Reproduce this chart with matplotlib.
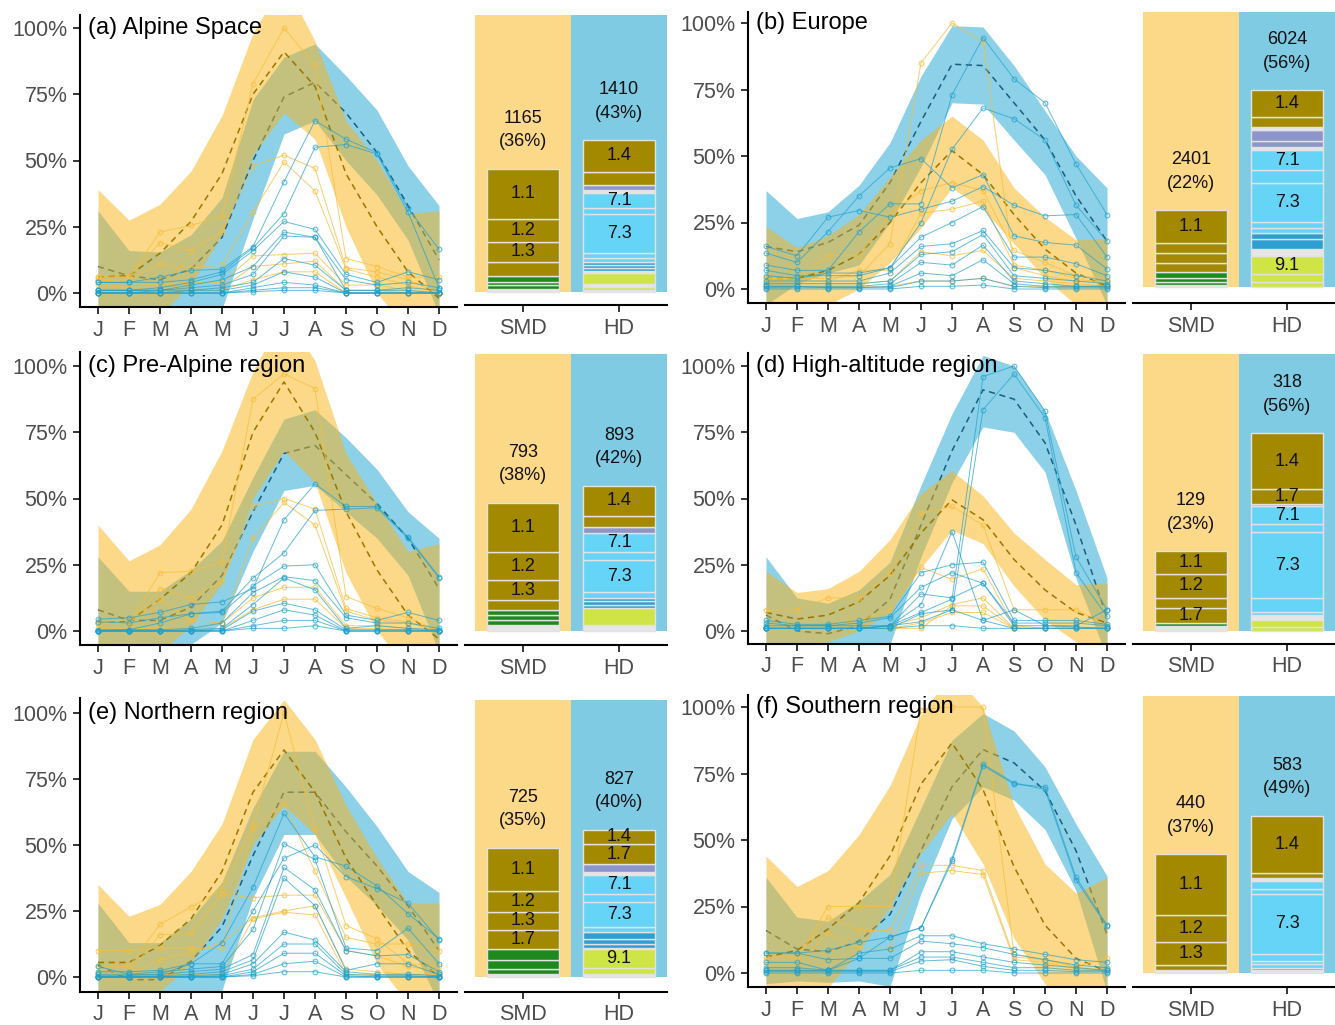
import matplotlib
matplotlib.use('Agg')
import matplotlib.pyplot as plt
import matplotlib.transforms as mtransforms
import numpy as np

plt.rcParams['font.family'] = ['Liberation Sans', 'DejaVu Sans']

# ---------------------------------------------------------------- data
MONTHS = ['J', 'F', 'M', 'A', 'M', 'J', 'J', 'A', 'S', 'O', 'N', 'D']
TITLES = ['(a) Alpine Space', '(b) Europe', '(c) Pre-Alpine region',
          '(d) High-altitude region', '(e) Northern region', '(f) Southern region']

# monthly shares (%) : mean and ribbon edges
A_SMD_MEAN = [6, 6.5, 15, 27, 45, 75, 91, 78, 45, 25, 8, -2]
A_SMD_HI = [39, 27.5, 33.5, 46, 67, 98, 118, 95, 65, 50, 30, 31]
A_SMD_LO = [-27, -14, -8, 3, 22, 52, 68, 58, 25, 0, -14, -35]
A_HD_MEAN = [10, 6.5, 5, 9, 21, 50, 74, 79.5, 68, 53, 33, 12.5]
A_HD_HI = [31, 16, 15.5, 22, 36, 73, 89, 94, 82, 69, 48, 33]
A_HD_LO = [-11, -6, -6, -10, -6, 28, 60, 65, 50, 37, 20, -8]

B_SMD_MEAN = [4, 4, 7, 13, 25, 40, 52, 43, 28, 15, 6, 1]
B_SMD_HI = [23.5, 15.5, 20, 28, 42, 56, 65, 56, 38, 27, 18.5, 19]
B_SMD_LO = [-15, -7, -6, 0, 10, 23, 38, 30, 17, 4, -6, -17]
B_HD_MEAN = [16, 14, 17.5, 24, 40, 63, 84.5, 84, 70, 56, 35, 18]
B_HD_HI = [37, 26.5, 29, 39, 55, 80, 99, 98.5, 84, 67, 50, 38]
B_HD_LO = [-6, 2, 6, 9, 25, 46, 70, 69.5, 56, 43, 19, -6]

C_SMD_MEAN = [3, 3.5, 12, 22, 40, 75, 94, 75, 45, 23, 6, -3]
C_SMD_HI = [40, 26.5, 32.5, 46, 68, 98, 120, 102, 67, 48, 30, 33]
C_SMD_LO = [-35, -20, -8, 2, 18, 50, 68, 56, 22, 0, -14, -35]
C_HD_MEAN = [8, 4, 4, 9, 21, 45, 67, 70, 59, 48, 35, 16]
C_HD_HI = [28, 15, 15, 23, 34, 58, 80, 83.5, 73, 61, 45, 35]
C_HD_LO = [-12, -7, -7, -5, 3, 30, 53, 55, 45, 35, 21, -8]

D_SMD_MEAN = [7, 4.5, 6, 11, 21, 37, 49.5, 42, 27, 15.5, 7, 3]
D_SMD_HI = [22.5, 14.5, 16, 22.5, 34.5, 52, 60.5, 51, 37, 27, 17.5, 18]
D_SMD_LO = [-8, -5.5, -4, 0, 7, 24, 38, 33, 17, 4, -4, -12]
D_HD_MEAN = [6, 0, -1, 2, 12, 40, 68, 91, 87.5, 71, 40, 5]
D_HD_HI = [28, 12.5, 10.5, 15.5, 26, 55, 82, 104, 100, 83, 53, 20]
D_HD_LO = [-20, -12, -12, -10, -5, 28, 56, 77, 75, 60, 20, -10]

E_SMD_MEAN = [5.5, 5.5, 12, 22, 40, 70, 86, 70, 45, 27, 10, 0]
E_SMD_HI = [35, 23, 27.5, 40, 58, 90, 105, 90, 65, 45, 28, 28]
E_SMD_LO = [-25, -13, -5.5, 5, 22, 50, 65, 54, 30, 5, -10, -30]
E_HD_MEAN = [4.5, -1, -1, 6, 19, 46, 70, 70, 55, 42, 27, 10]
E_HD_HI = [28, 13, 13, 22, 36, 64, 85.5, 85.5, 72, 57, 40, 32]
E_HD_LO = [-12, -15, -15, -10, -5, 30, 54, 54, 38, 27, 14, -10]

F_SMD_MEAN = [6, 8.5, 16.5, 26.5, 44, 71, 86.5, 69, 40, 18, 5.5, 0.6]
F_SMD_HI = [44, 32.5, 38.5, 52, 70.5, 97, 113, 100, 63, 41, 30, 36]
F_SMD_LO = [-32, -15.5, -5.5, 8, 25, 45, 60, 41, 13, -4, -19, -35]
F_HD_MEAN = [16, 9, 8, 12, 22, 46, 70, 84, 79, 68.5, 46, 14.5]
F_HD_HI = [36, 21, 19.5, 27, 37, 62, 87.5, 97.6, 91, 77.5, 56, 36.5]
F_HD_LO = [-4, -3, -3.5, -3, -5, 30, 58, 70, 65, 54, 31, -7]

# individual series (%)
A_SMD_LINES = [
    [6, 6, 23, 25.5, 29, 79, 100, 86, 13, 10, 6, 6],
    [6, 6, 19, 16, 23, 48, 52, 47, 9.5, 8, 5, 0],
    [5, 5, 11, 9.5, 10.5, 30.5, 49.5, 38.5, 9, 6, 3, 0],
    [5, 4, 3, 4, 4, 14, 14.5, 15, 3, 3, 1, 0],
    [3, 2, 2, 2, 2, 10, 11, 12, 1, 1, 0, 0],
    [1, 1, 1, 1, 1, 5, 8, 8, 0, 0, 0, 0],
]
A_HD_LINES = [
    [4, 4, 6, 8.5, 9, 17.5, 42, 65, 58, 53, 32, 16.5],
    [4, 4, 4, 5, 8, 17, 30, 55, 56, 52.5, 30.5, 2],
    [1, 1, 2, 4, 7, 16, 27, 24, 7, 4, 8, 5],
    [1, 1, 1, 3, 5, 10, 23, 21, 5, 3, 4, 2],
    [1, 1, 1, 2, 3, 7, 21.5, 21, 1, 1, 2, 1],
    [0, 0, 1, 1, 2, 4, 13, 10.5, 1, 1, 1, 0],
    [0, 0, 0, 1, 1, 3, 8, 6, 0, 0, 0, 0],
    [0, 0, 0, 0, 0, 2, 4, 3, 0, 0, 0, 0],
    [0, 0, 0, 0, 0, 1, 2, 2, 0, 0, 0, 0],
    [0, 0, 0, 0, 0, 0.5, 1, 1, 0, 0, 0, 0],
]
B_SMD_LINES = [
    [4, 4, 4, 5, 17, 85, 100, 93, 8, 5, 3, 3],
    [4, 4, 12.5, 12.5, 28, 37, 40, 37, 14.5, 10, 5, 4],
    [3, 3, 3, 7, 7, 28.5, 30, 33, 9, 7, 4, 2],
    [2, 2, 2, 2, 3, 14, 12.5, 14.5, 4, 3, 2, 1],
    [1, 1, 1, 1, 1, 3, 3, 4, 1, 1, 1, 1],
]
B_HD_LINES = [
    [9, 7, 7, 21.5, 32, 32, 73, 94.5, 79, 70, 47, 28],
    [7, 5, 5, 5, 8, 25, 52.5, 68, 64, 56, 31.5, 18],
    [16, 12.5, 27, 29.5, 27, 30, 33, 38.5, 31.5, 27.5, 28, 12],
    [13.5, 10, 21.5, 35, 45.5, 49, 38, 43, 20, 17.5, 16.5, 7.5],
    [5, 4, 6, 6, 8, 19.5, 25, 31, 12, 12, 9.5, 5],
    [3, 3, 3, 3, 6, 16, 17, 22, 8, 7, 5, 3],
    [2, 2, 2, 2, 3, 13, 14, 20.5, 5, 4, 3, 2],
    [1, 1, 1, 1, 2, 10, 9, 16.5, 3, 2, 1, 1],
    [1, 1, 0.5, 0.5, 1, 6, 5, 11, 2, 1, 1, 1],
    [0.5, 0.5, 0.5, 0.5, 0.5, 3, 3, 4, 1, 0.5, 0.5, 0.5],
    [0, 0, 0, 0, 0, 1, 1, 1.5, 0, 0, 0, 0],
]
C_SMD_LINES = [
    [3, 3, 22, 22.5, 26, 87.5, 97, 91.5, 13, 8.5, 5, 0],
    [3, 3, 16, 12.5, 18.5, 47, 50, 46, 8.5, 5, 3.5, 0],
    [3, 3, 12, 4, 3, 35, 48.5, 40, 7.5, 4, 3, 0],
    [1, 1, 1, 1, 3, 12.5, 16.5, 16.5, 2, 2, 1, 0],
    [0, 0, 0, 0, 1, 8, 12, 12, 1, 1, 0, 0],
]
C_HD_LINES = [
    [4.5, 5, 7, 10, 11, 16, 42, 55.5, 47, 47, 35.5, 20.5],
    [3.5, 3, 5, 6.5, 7.5, 20, 29.5, 45.5, 46, 46.5, 35, 20],
    [0.5, 0.5, 3, 6.5, 7, 17, 24.5, 25, 6, 4, 7, 4],
    [0, 0.5, 0.5, 1, 3, 14.5, 20.5, 19, 5, 3, 3, 1],
    [0, 0, 0, 0.5, 1, 10, 20, 15.5, 1, 2, 1, 0.5],
    [0, 0, 0, 0, 0.5, 7.5, 10.5, 8, 0.5, 0.5, 0.5, 0],
    [0, 0, 0, 0, 0, 4, 8, 6, 0, 0, 0, 0],
    [0, 0, 0, 0, 0, 2, 4, 4, 0, 0, 0, 0],
    [0, 0, 0, 0, 0, 1, 1, 2, 0, 0, 0, 0],
]
D_SMD_LINES = [
    [8, 8, 12.5, 12.5, 22, 44.5, 47, 40, 8, 8, 8, 2],
    [2, 2, 2, 4, 8, 24, 19.5, 23.5, 2, 1, 1, 1],
    [1, 1, 1, 1, 2, 5, 10, 12.5, 1, 1, 1, 1],
    [1, 1, 1, 1, 1, 3, 7, 7, 1, 1, 1, 1],
    [1, 1, 1, 1, 1, 1, 9.5, 9.5, 1, 1, 1, 1],
]
D_HD_LINES = [
    [1, 1, 1, 1, 2, 7, 12, 96, 100, 83, 28, 8],
    [1, 1, 1, 1, 2, 3.5, 8, 83.5, 97, 80.5, 22, 5.5],
    [4, 2.5, 2.5, 4, 5.5, 22, 25, 26, 4, 4, 4, 2.5],
    [3, 2, 2, 3, 5, 16.5, 22, 18, 3, 3, 3, 2],
    [1, 1, 1, 1, 2, 14, 12.5, 18, 2, 2, 1.5, 1],
    [1, 1, 1, 1, 1, 6.5, 8, 4, 1, 1, 1, 1],
    [2, 2, 2, 2, 2, 10, 37.5, 4, 8, 2, 2, 8],
    [1, 1, 1, 1, 1, 2, 2, 1, 1, 1, 1, 1],
]
E_SMD_LINES = [
    [10, 10, 11, 11, 11, 56, 65.5, 40, 15, 12.5, 12.5, 10],
    [4, 4, 20, 26.5, 33, 57.5, 100, 56, 19.5, 14.5, 5, 4],
    [2, 2, 16, 16.5, 31.5, 30, 31, 31, 10, 8, 4, 2],
    [1, 1, 6.5, 9.5, 13, 22.5, 25, 27, 3, 2, 1, 1],
    [1, 1, 1, 1, 1, 22, 24.5, 23.5, 1, 1, 1, 1],
]
E_HD_LINES = [
    [4, 1, 1, 5, 13, 34, 62, 45.5, 42, 34.5, 24, 14.5],
    [2, 2, 2.5, 5, 5, 25, 45, 50, 38, 33.5, 28, 14],
    [1, 1, 2, 3, 4, 18, 50.5, 44.5, 11, 10, 18.5, 5],
    [0.5, 0.5, 1, 2, 3, 8.5, 41.5, 33, 10, 8, 8.5, 2],
    [0, 0, 0.5, 1, 2, 6.5, 37.5, 27, 2.5, 5, 5, 1],
    [0, 0, 0, 0.5, 1, 5, 17, 14, 2, 1, 1, 0.5],
    [0, 0, 0, 0, 0.5, 3, 12.5, 12.5, 1, 0.5, 0.5, 0],
    [0, 0, 0, 0, 0, 2, 9, 9, 0.5, 0, 0, 0],
    [0, 0, 0, 0, 0, 1, 5, 6, 0, 0, 0, 0],
    [0, 0, 0, 0, 0, 0.5, 2, 2, 0, 0, 0, 0],
]
F_SMD_LINES = [
    [5, 5, 25, 25, 25, 99, 100, 100, 7, 5, 2.5, 5.5],
    [6, 6, 21, 16, 16, 40.5, 40.5, 38.5, 6, 5, 2, 1],
    [3, 3, 15, 9.5, 9.5, 37.5, 38.5, 37, 5, 4, 1.5, 1],
]
F_HD_LINES = [
    [7.5, 7.5, 5, 5.5, 13.5, 17, 43, 78.5, 71.5, 69, 35, 17.5],
    [7.5, 7.5, 8.5, 11.5, 13.5, 17, 42, 78, 71, 70, 36, 18],
    [4, 4, 1, 7.5, 9, 14, 14, 11, 9, 7, 5, 4],
    [2, 2, 1, 5.5, 5.5, 12, 11, 9.5, 7, 5, 3, 2],
    [1, 1, 1, 1, 1, 8, 8, 6, 4, 3, 2, 1],
    [1, 1, 1, 1, 1, 6, 6, 4, 2, 2, 1, 1],
    [0.5, 0.5, 0.5, 0.5, 0.5, 4.5, 5, 2.5, 1, 1, 0.5, 0.5],
    [0, 0, 0, 0, 0, 1, 1, 1, 0, 0, 0, 0],
]

# event counts and shares above the bars
COUNTS = [(1165, 36, 1410, 43), (2401, 22, 6024, 56), (793, 38, 893, 42),
          (129, 23, 318, 56), (725, 35, 827, 40), (440, 37, 583, 49)]

# stacked bar segments, top to bottom: (share of panel, colour key, label)
A_SMD_BAR = [(.181, 'o', '1.1'), (.082, 'o', '1.2'), (.075, 'o', '1.3'), (.048, 'o', ''),
             (.022, 'g', ''), (.012, 'g', ''), (.014, 'g', ''), (.011, 'e', '')]
A_HD_BAR = [(.114, 'o', '1.4'), (.048, 'o', ''), (.016, 'l', ''), (.012, 'e', ''),
            (.053, 'c', '7.1'), (.024, 'c', ''), (.142, 'c', '7.3'), (.018, 'c', ''),
            (.012, 'c', ''), (.012, 'b', ''), (.012, 'b', ''), (.008, 'b', ''),
            (.010, 'e', ''), (.039, 'y', ''), (.010, 'e', ''), (.010, 'y', ''), (.008, 'e', '')]
B_SMD_BAR = [(.119, 'o', '1.1'), (.039, 'o', ''), (.036, 'o', ''), (.030, 'o', ''),
             (.025, 'g', ''), (.012, 'g', ''), (.012, 'g', ''), (.007, 'e', '')]
B_HD_BAR = [(.097, 'o', '1.4'), (.036, 'o', ''), (.012, 'e', ''), (.039, 'l', ''),
            (.022, 'l', ''), (.012, 'e', ''), (.073, 'c', '7.1'), (.046, 'c', ''),
            (.141, 'c', '7.3'), (.024, 'c', ''), (.018, 'c', ''), (.022, 'b', ''),
            (.036, 'b', ''), (.027, 'e', ''), (.063, 'y', '9.1'), (.029, 'y', ''), (.019, 'y', '')]
C_SMD_BAR = [(.179, 'o', '1.1'), (.100, 'o', '1.2'), (.072, 'o', '1.3'), (.036, 'o', ''),
             (.018, 'g', ''), (.018, 'g', ''), (.018, 'g', ''), (.022, 'e', '')]
C_HD_BAR = [(.111, 'o', '1.4'), (.039, 'o', ''), (.022, 'l', ''), (.068, 'c', '7.1'),
            (.029, 'c', ''), (.115, 'c', '7.3'), (.022, 'c', ''), (.012, 'b', ''),
            (.012, 'b', ''), (.012, 'b', ''), (.061, 'y', ''), (.022, 'e', '')]
D_SMD_BAR = [(.081, 'o', '1.1'), (.087, 'o', '1.2'), (.037, 'o', ''), (.053, 'o', '1.7'),
             (.012, 'g', ''), (.010, 'e', ''), (.008, 'e', '')]
D_HD_BAR = [(.201, 'o', '1.4'), (.055, 'o', '1.7'), (.007, 'p', ''), (.065, 'c', '7.1'),
            (.029, 'c', ''), (.236, 'c', '7.3'), (.051, 'c', ''), (.010, 'c', ''),
            (.021, 'e', ''), (.024, 'y', ''), (.014, 'y', '')]
E_SMD_BAR = [(.155, 'o', '1.1'), (.076, 'o', '1.2'), (.064, 'o', '1.3'), (.071, 'o', '1.7'),
             (.040, 'g', ''), (.030, 'g', ''), (.020, 'g', ''), (.010, 'e', '')]
E_HD_BAR = [(.051, 'o', '1.4'), (.072, 'o', '1.7'), (.030, 'l', ''), (.008, 'e', ''),
            (.072, 'c', '7.1'), (.028, 'c', ''), (.090, 'c', '7.3'), (.018, 'c', ''),
            (.024, 'b', ''), (.018, 'b', ''), (.014, 'b', ''), (.006, 'e', ''),
            (.066, 'y', '9.1'), (.022, 'y', ''), (.012, 'e', '')]
F_SMD_BAR = [(.218, 'o', '1.1'), (.099, 'o', '1.2'), (.084, 'o', '1.3'), (.016, 'o', ''),
             (.012, 'e', '')]
F_HD_BAR = [(.207, 'o', '1.4'), (.017, 'o', ''), (.012, 'e', ''), (.028, 'c', ''),
            (.018, 'c', ''), (.217, 'c', '7.3'), (.024, 'c', ''), (.012, 'c', ''),
            (.014, 'c', ''), (.007, 'b', ''), (.012, 'e', '')]

# ---------------------------------------------------------------- style
W, H = 1335, 1025
SMD_FILL = '#FBB315'
HD_FILL = '#0199CB'
SMD_DARK = '#9A7600'
HD_DARK = '#1B5C7C'
SMD_LINE = '#F7BE3A'
HD_LINE = '#21A1CE'
SEG_COLORS = {'o': '#A38900', 'g': '#1E8A1E', 'l': '#8C96CA', 'c': '#66D4F6',
              'b': '#2E9FD3', 'y': '#CFE545', 'e': '#E6E6E6', 'p': '#D98AC6'}
TICK_GREY = '#4D4D4D'

# pixel boxes: line axes (x0, x1, top, bottom, y0%, y100%), bar axes (x0, top, bottom, y0)
LAYOUT = [
    ((80, 457, 15, 307, 293, 28), (465.4, 15, 305, 292)),
    ((748, 1125, 12, 303, 289, 23), (1133.4, 12, 303, 287)),
    ((80, 457, 352, 645, 631, 366), (465.4, 354, 645, 631)),
    ((748, 1125, 353, 644, 631, 366), (1133.4, 354, 644, 631)),
    ((80, 457, 698, 992, 977, 713), (465.4, 700, 992, 977)),
    ((748, 1125, 695, 987, 973, 707), (1133.4, 696, 987, 973)),
]

BANDS = [
    (A_SMD_MEAN, A_SMD_LO, A_SMD_HI, A_HD_MEAN, A_HD_LO, A_HD_HI),
    (B_SMD_MEAN, B_SMD_LO, B_SMD_HI, B_HD_MEAN, B_HD_LO, B_HD_HI),
    (C_SMD_MEAN, C_SMD_LO, C_SMD_HI, C_HD_MEAN, C_HD_LO, C_HD_HI),
    (D_SMD_MEAN, D_SMD_LO, D_SMD_HI, D_HD_MEAN, D_HD_LO, D_HD_HI),
    (E_SMD_MEAN, E_SMD_LO, E_SMD_HI, E_HD_MEAN, E_HD_LO, E_HD_HI),
    (F_SMD_MEAN, F_SMD_LO, F_SMD_HI, F_HD_MEAN, F_HD_LO, F_HD_HI),
]
LINES = [(A_SMD_LINES, A_HD_LINES), (B_SMD_LINES, B_HD_LINES), (C_SMD_LINES, C_HD_LINES),
         (D_SMD_LINES, D_HD_LINES), (E_SMD_LINES, E_HD_LINES), (F_SMD_LINES, F_HD_LINES)]
BARS = [(A_SMD_BAR, A_HD_BAR), (B_SMD_BAR, B_HD_BAR), (C_SMD_BAR, C_HD_BAR),
        (D_SMD_BAR, D_HD_BAR), (E_SMD_BAR, E_HD_BAR), (F_SMD_BAR, F_HD_BAR)]


def add_ax(fig, x0, x1, top, bottom):
    return fig.add_axes([x0 / W, 1 - bottom / H, (x1 - x0) / W, (bottom - top) / H])


def style_axis(ax):
    for side in ('top', 'right'):
        ax.spines[side].set_visible(False)
    for side in ('left', 'bottom'):
        ax.spines[side].set_linewidth(1.5)
        ax.spines[side].set_color('black')
    ax.tick_params(length=5, width=1.1, color='black', labelcolor=TICK_GREY,
                   labelsize=15.5, pad=4)
    ax.patch.set_visible(False)


def draw_line_panel(ax, title, bands, lines, box):
    x0, x1, top, bottom, zero, hundred = box
    px = (zero - hundred)
    x = np.arange(1, 13)
    smd_mean, smd_lo, smd_hi, hd_mean, hd_lo, hd_hi = [np.array(v) / 100 for v in bands]
    smd_lines, hd_lines = lines

    ax.fill_between(x, hd_lo, hd_hi, color=HD_FILL, alpha=0.45, lw=0, zorder=1)
    ax.plot(x, hd_mean, color=HD_DARK, ls=(0, (4, 3)), lw=1.1, zorder=1.5)
    ax.fill_between(x, smd_lo, smd_hi, color=SMD_FILL, alpha=0.5, lw=0, zorder=2)
    ax.plot(x, smd_mean, color=SMD_DARK, ls=(0, (4, 3)), lw=1.1, zorder=3)

    for s in smd_lines:
        ax.plot(x, np.array(s) / 100, color=SMD_LINE, lw=0.7, alpha=0.75, marker='o',
                ms=3.4, mfc='none', mew=0.8, zorder=4)
    for s in hd_lines:
        ax.plot(x, np.array(s) / 100, color=HD_LINE, lw=0.7, alpha=0.7, marker='o',
                ms=3.4, mfc='none', mew=0.8, zorder=4)

    ax.set_xlim(1 - 18 / 31, 12 + 18 / 31)
    ax.set_ylim(-(bottom - zero) / px, (zero - top) / px)
    ax.set_xticks(x)
    ax.set_xticklabels(MONTHS)
    ax.set_yticks([0, 0.25, 0.5, 0.75, 1.0])
    ax.set_yticklabels(['0%', '25%', '50%', '75%', '100%'])
    style_axis(ax)

    trans = mtransforms.blended_transform_factory(ax.transAxes, ax.transData)
    ax.text(0.021, 1.0, title, transform=trans, fontsize=17, ha='left', va='center',
            color='black', zorder=10)


def draw_bar_panel(ax, bars, counts, box):
    x0, top, bottom, zero = box
    ax.bar([0, 1], [1, 1], width=1.0, color=[SMD_FILL, HD_FILL], alpha=0.5, lw=0)
    n_smd, p_smd, n_hd, p_hd = counts
    labels = [f'{n_smd}\n({p_smd}%)', f'{n_hd}\n({p_hd}%)']
    for xpos, segs, lab in zip([0, 1], bars, labels):
        base = 0.0
        for h, key, text in reversed(segs):
            ax.bar(xpos, h, bottom=base, width=0.75, color=SEG_COLORS[key],
                   edgecolor='#E2E2E2', lw=1.0)
            if text:
                ax.text(xpos, base + h / 2, text, ha='center', va='center',
                        fontsize=13, color='#111111')
            base += h
        ax.text(xpos, base + 0.14, lab, ha='center', va='center', fontsize=13,
                linespacing=1.5, color='#111111')
    ax.set_xlim(-0.6, 1.5)
    ax.set_ylim(-(bottom - zero) / (zero - top), 1.0)
    ax.set_xticks([0, 1])
    ax.set_xticklabels(['SMD', 'HD'])
    style_axis(ax)
    ax.spines['left'].set_visible(False)
    ax.set_yticks([])


fig = plt.figure(figsize=(W / 100, H / 100), dpi=100)

for i in range(6):
    line_box, bar_box = LAYOUT[i]
    lx0, lx1, ltop, lbottom = line_box[:4]
    ax = add_ax(fig, lx0, lx1, ltop, lbottom)
    draw_line_panel(ax, TITLES[i], BANDS[i], LINES[i], line_box)

    bx0, btop, bbottom = bar_box[:3]
    bax = add_ax(fig, bx0, bx0 + 2.1 * 96, btop, bbottom)
    draw_bar_panel(bax, BARS[i], COUNTS[i], bar_box)

fig.savefig('out.png', dpi=100)
